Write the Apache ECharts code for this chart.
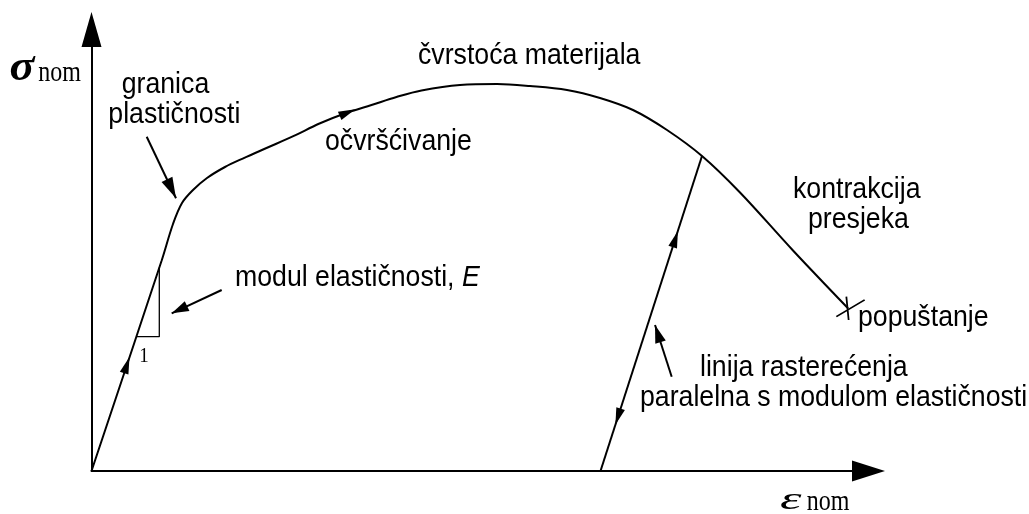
<!DOCTYPE html>
<html>
<head>
<meta charset="utf-8">
<script src="https://cdn.jsdelivr.net/npm/echarts@6/dist/echarts.min.js"></script>
<style>
  html, body { margin: 0; padding: 0; background: #fff; }
  #main { width: 1029px; height: 514px; }
</style>
</head>
<body>
<div id="main"></div>
<script>
// dijagram naprezanje - deformacija (jedinice ocitane sa slike, ishodiste u 0,0)
var loadCurve = [
  [0, 0], [70, 210], [81.5, 247], [90.5, 268], [101.5, 281], [115.5, 293],
  [133.5, 304], [151.8, 312.7], [175, 323], [201.8, 334.8], [228, 347.5],
  [256, 358.5], [280, 366], [305, 374], [330, 380.5], [368.5, 386],
  [405.5, 387], [438.5, 385], [475.5, 381], [508.5, 373], [541.5, 361],
  [575.5, 341], [610.5, 315], [648.5, 278.5], [701.5, 220.5], [756.5, 162.7]
];
var unloadLine = [[509, 0], [610.5, 315]];           // linija rasterecenja
var slopeTriangle = [[44.8, 134.3], [67.8, 134.3], [67.8, 203.4]];
var breakPoint = [756.5, 162.7];                      // popustanje

// strelice na krivulji: [x, y, dx, dy]
var curveArrows = [
  [35.3, 106, 1, 3],
  [256, 358.5, 15, 6.4],
  [583.8, 232, 1, 3.1],
  [526.5, 54.3, -1, -3.1]
];
// pokazivaci: [od, do (vrh), [sirina, duzina] glave]
var pointers = [
  [[55.2, 334.3], [84.5, 272.7], [12, 21]],
  [[130.2, 181], [80.2, 157.7], [11, 17]],
  [[580.2, 94.3], [563.5, 146], [11, 18]]
];
// natpisi: [tekst, x, y (osnovna linija), vrsta]
var labels = [
  ['granica', 30.2, 376, 'sans'],
  ['plastičnosti', 16.8, 346, 'sans'],
  ['čvrstoća materijala', 326.5, 405, 'sans'],
  ['očvršćivanje', 233.5, 319, 'sans'],
  ['{a|modul elastičnosti, }{i|E}', 143.5, 183, 'sans'],
  ['kontrakcija', 701.5, 271, 'sans'],
  ['presjeka', 716.5, 241, 'sans'],
  ['popuštanje', 766.5, 143, 'sans'],
  ['linija rasterećenja', 608.5, 93, 'sans'],
  ['paralelna s modulom elastičnosti', 548.5, 63, 'sans'],
  ['1', 47.8, 107.7, 'one'],
  ['σ', -82, 387.7, 'sigma'],
  ['nom', -53.2, 387.7, 'sub'],
  ['ε', 688.5, -40.7, 'eps'],
  ['nom', 715.2, -40.7, 'sub']
];

var fontStyles = {
  sans:  { family: 'Liberation Sans', size: 26.7, weight: '', sx: 1, sy: 1.1, mid: 0.3465 },
  one:   { family: 'Liberation Serif', size: 19, weight: '', sx: 1, sy: 1.15, mid: 0.3375 },
  sigma: { family: 'Liberation Serif', size: 44, weight: 'bold italic ', sx: 1.05, sy: 1.0, mid: 0.3375 },
  eps:   { family: 'Liberation Serif', size: 32, weight: 'italic ', sx: 1.7, sy: 1.0, mid: 0.3375 },
  sub:   { family: 'Liberation Serif', size: 24, weight: '', sx: 1, sy: 1.2, mid: 0.3375 }
};

var black = '#000';

function rot(dx, dy) {
  return Math.atan2(dy, dx) * 180 / Math.PI - 90;
}

var headData = curveArrows.map(function (a) {
  return { value: [a[0], a[1]], symbolRotate: rot(a[2], a[3]), symbolSize: [9, 17] };
});
pointers.forEach(function (p) {
  var dx = p[1][0] - p[0][0], dy = p[1][1] - p[0][1];
  var len = Math.sqrt(dx * dx + dy * dy);
  var h = p[2][1] / 2;
  headData.push({
    value: [p[1][0] - dx / len * h, p[1][1] - dy / len * h],
    symbolRotate: rot(dx, dy),
    symbolSize: p[2]
  });
});

var lineStyle = { color: black, width: 2 };
var series = [
  { type: 'line', data: loadCurve, smooth: 0.35, symbol: 'none', lineStyle: lineStyle },
  { type: 'line', data: unloadLine, symbol: 'none', lineStyle: lineStyle },
  { type: 'line', data: slopeTriangle, symbol: 'none', lineStyle: { color: black, width: 1.3 } }
];
pointers.forEach(function (p) {
  series.push({ type: 'line', data: [p[0], p[1]], symbol: 'none', lineStyle: lineStyle });
});
series.push({
  type: 'scatter', data: headData, symbol: 'triangle',
  itemStyle: { color: black, opacity: 1 }
});
series.push({
  type: 'scatter', data: [breakPoint],
  symbol: 'path://M10,0L12.3,23.3M0,20L28.3,3.3',
  symbolSize: [28.3, 23.3], symbolOffset: [2.5, 0],
  itemStyle: { color: 'none', borderColor: black, borderWidth: 1.6, opacity: 1 }
});

function axis(max, size) {
  return {
    type: 'value', min: 0, max: max,
    axisLine: { show: true, symbol: ['none', 'triangle'], symbolSize: size,
      lineStyle: { color: black, width: 2 } },
    axisTick: { show: false }, axisLabel: { show: false }, splitLine: { show: false }
  };
}

var chart = echarts.init(document.getElementById('main'), null, { renderer: 'canvas' });
chart.setOption({
  animation: false,
  backgroundColor: '#fff',
  grid: { left: 91.5, right: 160.5, top: 29.5, bottom: 43 },
  xAxis: axis(777, [21, 33]),
  yAxis: axis(441.5, [20, 35]),
  series: series
});

// natpisi kao tekst, smjesteni preko koordinata grafa
var graphic = labels.map(function (l) {
  var f = fontStyles[l[3]];
  var p = chart.convertToPixel({ gridIndex: 0 }, [l[1], l[2]]);
  var font = f.weight + f.size + 'px "' + f.family + '"';
  return {
    type: 'text', x: p[0], y: p[1] - f.mid * f.size * f.sy,
    scaleX: f.sx, scaleY: f.sy, silent: true,
    style: {
      text: l[0], fill: black, font: font, align: 'left', verticalAlign: 'middle',
      rich: {
        a: { font: font, fill: black },
        i: { font: 'italic ' + font, fill: black }
      }
    }
  };
});
chart.setOption({ graphic: graphic });
</script>
</body>
</html>
